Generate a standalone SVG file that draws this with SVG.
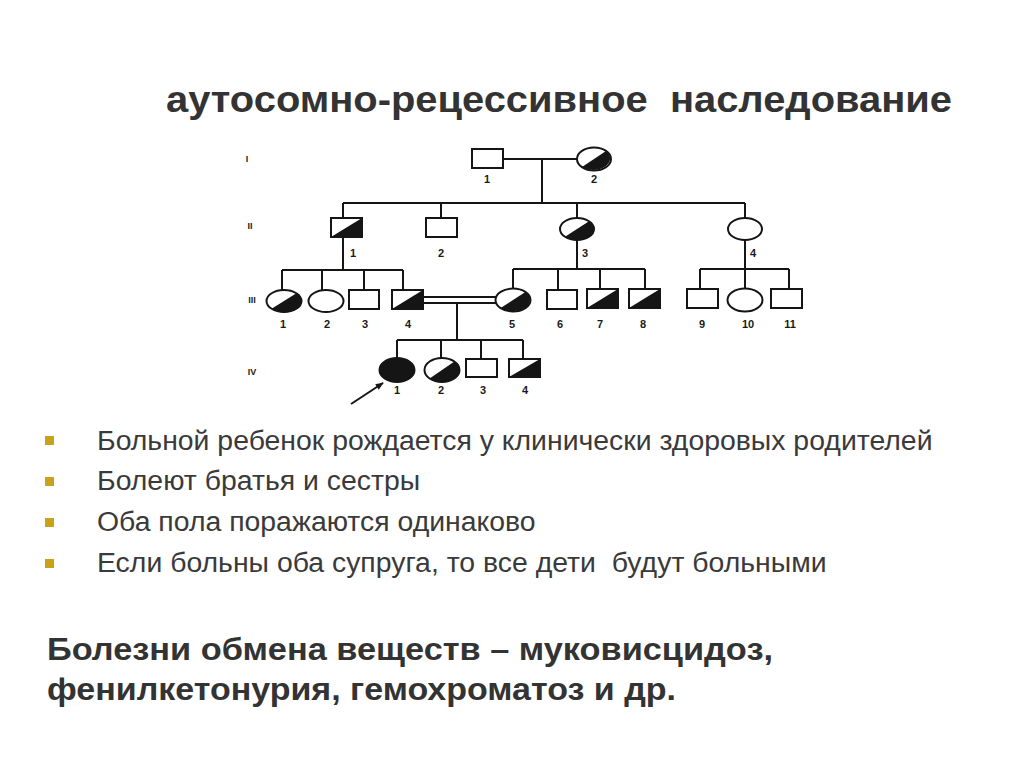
<svg xmlns="http://www.w3.org/2000/svg" width="1024" height="767" viewBox="0 0 1024 767">
<defs>
<style>
.ln{stroke:#151515;stroke-width:2;fill:none}
.sym{fill:#fff;stroke:#151515;stroke-width:2}
.blk{fill:#151515;stroke:none}
.lbl{font-family:"Liberation Sans",Arial,sans-serif;font-weight:bold;font-size:11px;fill:#1a1a1a;text-anchor:middle}
.gen{font-family:"Liberation Sans",Arial,sans-serif;font-weight:bold;font-size:9px;fill:#1a1a1a;text-anchor:middle}
.title{font-family:"Liberation Sans",Arial,sans-serif;font-weight:bold;font-size:36px;fill:#333;white-space:pre}
.bul{font-family:"Liberation Sans",Arial,sans-serif;font-size:28.4px;fill:#3a3a3a;white-space:pre}
.big{font-family:"Liberation Sans",Arial,sans-serif;font-weight:bold;font-size:31px;fill:#333}
.dot{fill:#c9a21a}
</style>
<marker id="arr" viewBox="0 0 10 10" refX="9" refY="5" markerWidth="9" markerHeight="8" orient="auto" markerUnits="userSpaceOnUse">
<path d="M0,1 L10,5 L0,9 Z" fill="#151515"/>
</marker>
</defs>
<rect width="1024" height="767" fill="#fff"/>

<text id="title" class="title" x="166" y="112" textLength="786" lengthAdjust="spacingAndGlyphs">аутосомно-рецессивное  наследование</text>

<g id="gen-labels">
<text class="gen" x="247" y="162">I</text>
<text class="gen" x="250" y="229">II</text>
<text class="gen" x="252" y="303">III</text>
<text class="gen" x="252" y="375">IV</text>
</g>

<g id="connectors">
<line class="ln" x1="503" y1="159" x2="577" y2="159"/>
<line class="ln" x1="542" y1="159" x2="542" y2="203"/>
<line class="ln" x1="343" y1="203" x2="745" y2="203"/>
<line class="ln" x1="343" y1="203" x2="343" y2="218"/>
<line class="ln" x1="441" y1="203" x2="441" y2="218"/>
<line class="ln" x1="577" y1="203" x2="577" y2="218"/>
<line class="ln" x1="745" y1="203" x2="745" y2="218"/>
<line class="ln" x1="343" y1="237" x2="343" y2="270"/>
<line class="ln" x1="282" y1="270" x2="403" y2="270"/>
<line class="ln" x1="282" y1="270" x2="282" y2="290"/>
<line class="ln" x1="322" y1="270" x2="322" y2="290"/>
<line class="ln" x1="364" y1="270" x2="364" y2="290"/>
<line class="ln" x1="403" y1="270" x2="403" y2="290"/>
<line class="ln" x1="577" y1="240" x2="577" y2="269"/>
<line class="ln" x1="513" y1="269" x2="645" y2="269"/>
<line class="ln" x1="513" y1="269" x2="513" y2="289"/>
<line class="ln" x1="558" y1="269" x2="558" y2="290"/>
<line class="ln" x1="600" y1="269" x2="600" y2="289"/>
<line class="ln" x1="645" y1="269" x2="645" y2="289"/>
<line class="ln" x1="745" y1="240" x2="745" y2="269"/>
<line class="ln" x1="700" y1="269" x2="789" y2="269"/>
<line class="ln" x1="700" y1="269" x2="700" y2="289"/>
<line class="ln" x1="745" y1="269" x2="745" y2="289"/>
<line class="ln" x1="789" y1="269" x2="789" y2="289"/>
<line class="ln" x1="423" y1="297" x2="496" y2="297"/>
<line class="ln" x1="423" y1="303" x2="496" y2="303"/>
<line class="ln" x1="457" y1="303" x2="457" y2="340"/>
<line class="ln" x1="397" y1="340" x2="523" y2="340"/>
<line class="ln" x1="397" y1="340" x2="397" y2="358"/>
<line class="ln" x1="441" y1="340" x2="441" y2="358"/>
<line class="ln" x1="481" y1="340" x2="481" y2="359"/>
<line class="ln" x1="523" y1="340" x2="523" y2="359"/>
<line class="ln" x1="351" y1="404" x2="383" y2="383" marker-end="url(#arr)"/>
</g>

<g id="I-1"><rect class="sym" x="472" y="149" width="31" height="19"/><text class="lbl" x="487" y="183">1</text></g>
<g id="I-2"><ellipse class="sym" cx="594" cy="159" rx="17" ry="11.5"/><path class="blk" d="M606,150.9 A17,11.5 0 0 1 582,167.1 Z"/><text class="lbl" x="594" y="183">2</text></g>

<g id="II-1"><rect class="sym" x="331" y="218" width="31" height="19"/><path class="blk" d="M331,237 L362,237 L362,218 Z"/><text class="lbl" x="353" y="257">1</text></g>
<g id="II-2"><rect class="sym" x="426" y="218" width="31" height="19"/><text class="lbl" x="441" y="257">2</text></g>
<g id="II-3"><ellipse class="sym" cx="577" cy="229" rx="17" ry="11"/><path class="blk" d="M589,221.2 A17,11 0 0 1 565,236.8 Z"/><text class="lbl" x="585" y="257">3</text></g>
<g id="II-4"><ellipse class="sym" cx="745" cy="229" rx="17" ry="11"/><text class="lbl" x="753" y="257">4</text></g>

<g id="III-1"><ellipse class="sym" cx="284" cy="301" rx="17.5" ry="11"/><path class="blk" d="M296.4,293.2 A17.5,11 0 0 1 271.6,308.8 Z"/><text class="lbl" x="283" y="328">1</text></g>
<g id="III-2"><ellipse class="sym" cx="326" cy="301" rx="17.5" ry="11"/><text class="lbl" x="327" y="328">2</text></g>
<g id="III-3"><rect class="sym" x="349" y="290" width="30" height="19"/><text class="lbl" x="365" y="328">3</text></g>
<g id="III-4"><rect class="sym" x="392" y="290" width="31" height="19"/><path class="blk" d="M392,309 L423,309 L423,290 Z"/><text class="lbl" x="408" y="328">4</text></g>
<g id="III-5"><ellipse class="sym" cx="513" cy="300" rx="17.5" ry="11.5"/><path class="blk" d="M525.4,291.9 A17.5,11.5 0 0 1 500.6,308.1 Z"/><text class="lbl" x="512" y="328">5</text></g>
<g id="III-6"><rect class="sym" x="547" y="290" width="30" height="19"/><text class="lbl" x="560" y="328">6</text></g>
<g id="III-7"><rect class="sym" x="587" y="289" width="31" height="19"/><path class="blk" d="M587,308 L618,308 L618,289 Z"/><text class="lbl" x="600" y="328">7</text></g>
<g id="III-8"><rect class="sym" x="629" y="289" width="31" height="19"/><path class="blk" d="M629,308 L660,308 L660,289 Z"/><text class="lbl" x="643" y="328">8</text></g>
<g id="III-9"><rect class="sym" x="687" y="289" width="31" height="19"/><text class="lbl" x="702" y="328">9</text></g>
<g id="III-10"><ellipse class="sym" cx="745" cy="300" rx="17.5" ry="11.5"/><text class="lbl" x="748" y="328">10</text></g>
<g id="III-11"><rect class="sym" x="771" y="289" width="31" height="19"/><text class="lbl" x="790" y="328">11</text></g>

<g id="IV-1"><ellipse cx="397" cy="370" rx="17.5" ry="12" fill="#151515" stroke="#151515" stroke-width="2"/><text class="lbl" x="397" y="394">1</text></g>
<g id="IV-2"><ellipse class="sym" cx="442" cy="370" rx="17.5" ry="12"/><path class="blk" d="M454.4,361.5 A17.5,12 0 0 1 429.6,378.5 Z"/><text class="lbl" x="441" y="394">2</text></g>
<g id="IV-3"><rect class="sym" x="466" y="359" width="31" height="18"/><text class="lbl" x="483" y="394">3</text></g>
<g id="IV-4"><rect class="sym" x="509" y="359" width="31" height="18"/><path class="blk" d="M509,377 L540,377 L540,359 Z"/><text class="lbl" x="525" y="394">4</text></g>

<g id="bullets">
<rect class="dot" x="45" y="436" width="9" height="9"/>
<text class="bul" x="97" y="450">Больной ребенок рождается у клинически здоровых родителей</text>
<rect class="dot" x="45" y="477" width="9" height="9"/>
<text class="bul" x="97" y="490">Болеют братья и сестры</text>
<rect class="dot" x="45" y="518" width="9" height="9"/>
<text class="bul" x="97" y="531">Оба пола поражаются одинаково</text>
<rect class="dot" x="45" y="559" width="9" height="9"/>
<text class="bul" x="97" y="572">Если больны оба супруга, то все дети  будут больными</text>
</g>

<g id="conclusion">
<text class="big" x="47" y="660" textLength="726" lengthAdjust="spacingAndGlyphs">Болезни обмена веществ – муковисцидоз,</text>
<text class="big" x="47" y="700" textLength="629" lengthAdjust="spacingAndGlyphs">фенилкетонурия, гемохроматоз и др.</text>
</g>
</svg>
